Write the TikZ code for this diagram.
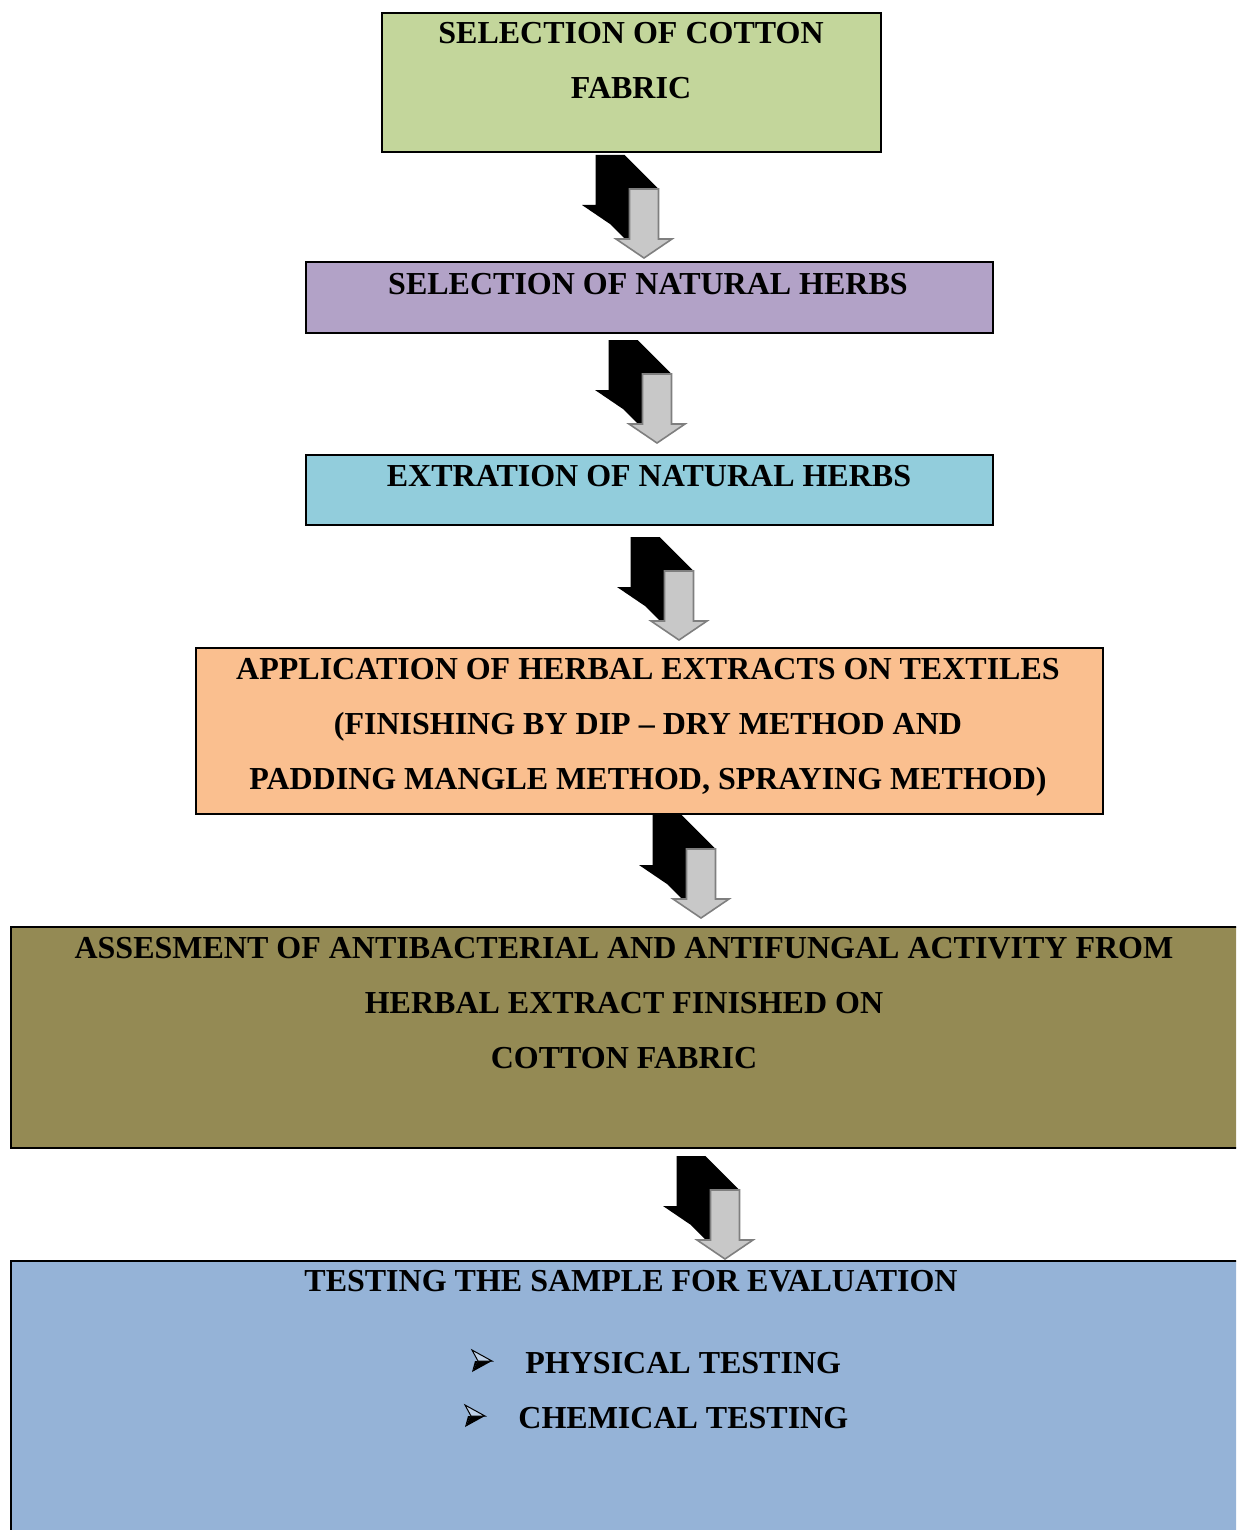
\documentclass[tikz,border=0pt]{standalone}
\usepackage{fontspec}
\setmainfont{Liberation Serif}
\definecolor{cgreen}{HTML}{C3D69B}
\definecolor{cpurple}{HTML}{B2A2C7}
\definecolor{ccyan}{HTML}{92CDDC}
\definecolor{corange}{HTML}{FABF8F}
\definecolor{colive}{HTML}{948A54}
\definecolor{cblue}{HTML}{95B3D7}
\definecolor{agray}{HTML}{C8C8C8}
\definecolor{aedge}{HTML}{7F7F7F}
\tikzset{
  boxr/.style={draw=black, line width=1pt},
  txt/.style={anchor=base, inner sep=0pt, font=\fontsize{16}{19}\selectfont\bfseries},
  txtl/.style={anchor=base west, inner sep=0pt, font=\fontsize{16}{19}\selectfont\bfseries},
  blockarr/.pic={
    \fill[black] (-34,-34) -- (-62,-53) -- (-48.5,-53) -- (-48.5,-103) -- (-19.5,-103)
      -- (14.5,-69) -- (14.5,-19) -- (28,-19) -- (0,0) -- cycle;
    \filldraw[fill=agray, draw=aedge, line width=0.8pt, line join=miter]
      (0,0) -- (28,-19) -- (14.5,-19) -- (14.5,-69) -- (-14.5,-69) -- (-14.5,-19) -- (-28,-19) -- cycle;
  },
  bulletpic/.pic={
    \fill[black] (0,11) -- (20,0) -- (6,0) -- cycle;
    \filldraw[fill=cblue!60!white, draw=black, line width=0.5pt] (0,-11) -- (20,0) -- (6,0) -- cycle;
    \fill[black] (0,11) -- (6,0) -- (3,0) -- cycle;
  }
}
\begin{document}
\begin{tikzpicture}[x=0.5pt, y=-0.5pt]
\useasboundingbox (0,0) rectangle (1236,1530);
\clip (0,0) rectangle (1236,1530);
\fill[white] (0,0) rectangle (1236,1530);

% boxes
\draw[boxr, fill=cgreen]  (382,13) rectangle (881,152);
\draw[boxr, fill=cpurple] (306,262) rectangle (993,333);
\draw[boxr, fill=ccyan]   (306,455) rectangle (993,525);
\draw[boxr, fill=corange] (196,648) rectangle (1103,814);
\draw[boxr, fill=colive]  (11,927) rectangle (1245,1148);
\draw[boxr, fill=cblue]   (11,1261) rectangle (1245,1545);

% arrows
\pic at (644,258) {blockarr};
\pic at (657,443) {blockarr};
\pic at (679,640) {blockarr};
\pic at (701,918) {blockarr};
\pic at (725,1259) {blockarr};

% texts
\node[txt] (t1a) at (631,44) {SELECTION OF COTTON};
\node[txt] (t1b) at (631,99) {FABRIC};
\node[txt] (t2) at (648,294) {SELECTION OF NATURAL HERBS};
\node[txt] (t3) at (649,486) {EXTRATION OF NATURAL HERBS};
\node[txt] (t4a) at (648,679) {APPLICATION OF HERBAL EXTRACTS ON TEXTILES};
\node[txt] (t4b) at (648,734) {(FINISHING BY DIP -- DRY METHOD AND};
\node[txt] (t4c) at (648,789) {PADDING MANGLE METHOD, SPRAYING METHOD)};
\node[txt] (t5a) at (624,958) {ASSESMENT OF ANTIBACTERIAL AND ANTIFUNGAL ACTIVITY FROM};
\node[txt] (t5b) at (624,1013) {HERBAL EXTRACT FINISHED ON};
\node[txt] (t5c) at (624,1068) {COTTON FABRIC};
\node[txt] (t6) at (631,1291) {TESTING THE SAMPLE FOR EVALUATION};
\pic at (472,1361) {bulletpic};
\node[txtl] (t6a) at (525,1373) {PHYSICAL TESTING};
\pic at (465,1416) {bulletpic};
\node[txtl] (t6b) at (518,1428) {CHEMICAL TESTING};
\end{tikzpicture}
\end{document}
